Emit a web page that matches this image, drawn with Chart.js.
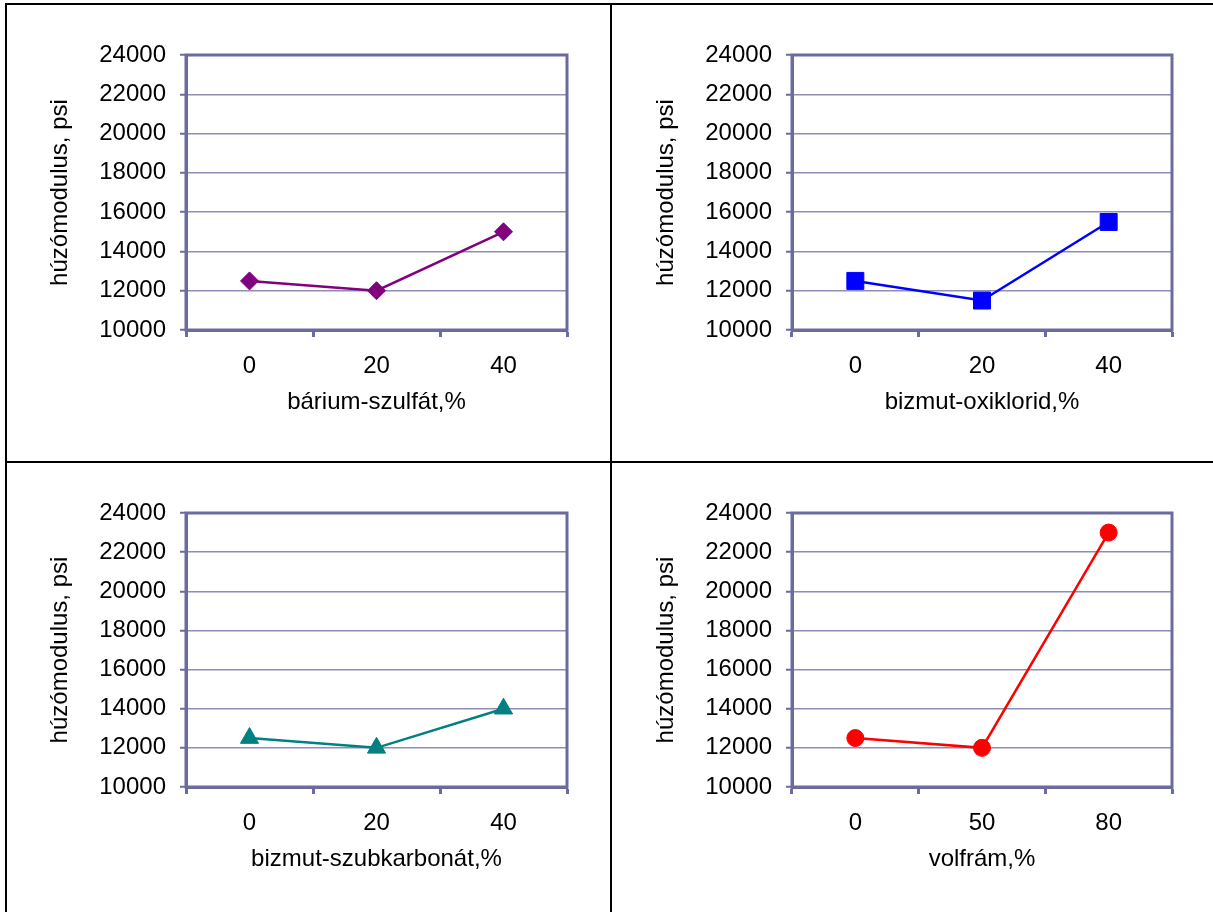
<!DOCTYPE html>
<html>
<head>
<meta charset="utf-8">
<script src="https://cdn.jsdelivr.net/npm/chart.js@4/dist/chart.umd.min.js"></script>
<style>
  body { margin: 0; background: #fff; }
  #lap { position: relative; width: 1213px; height: 912px; overflow: hidden; background: #fff; }
  canvas { position: absolute; }
  .vonal { position: absolute; background: #000; }
</style>
</head>
<body>
<div id="lap">
  <canvas id="grafBarium" width="611" height="462" style="left:0;top:0"></canvas>
  <canvas id="grafOxiklorid" width="602" height="462" style="left:611px;top:0"></canvas>
  <canvas id="grafSzubkarbonat" width="611" height="450" style="left:0;top:462px"></canvas>
  <canvas id="grafVolfram" width="602" height="450" style="left:611px;top:462px"></canvas>
  <div class="vonal" style="left:5px;top:3px;width:2px;height:909px"></div>
  <div class="vonal" style="left:5px;top:3px;width:1208px;height:2px"></div>
  <div class="vonal" style="left:610px;top:3px;width:2px;height:909px"></div>
  <div class="vonal" style="left:5px;top:461px;width:1208px;height:2px"></div>
</div>
<script>
// adatok
const cimkekSzazalek = ['0', '20', '40'];
const cimkekVolfram = ['0', '50', '80'];
const ertekBarium = [12500, 12000, 15000];
const ertekOxiklorid = [12500, 11500, 15500];
const ertekSzubkarbonat = [12500, 12000, 14000];
const ertekVolfram = [12500, 12000, 23000];
const yMin = 10000, yMax = 24000, yLepes = 2000;
const yCim = 'húzómodulus, psi';

const tengelySzin = '#6b6b9e';
const racsSzin = '#8e8eb6';
const betu = { family: '"Liberation Sans", Arial, sans-serif', size: 24 };

// keret a rajzterulet kore
const keretPlugin = {
  id: 'keret',
  afterDatasetsDraw: function(chart) {
    var a = chart.chartArea, ctx = chart.ctx;
    ctx.save();
    ctx.strokeStyle = tengelySzin;
    ctx.lineWidth = 3;
    ctx.strokeRect(a.left, a.top, a.right - a.left, a.bottom - a.top);
    ctx.restore();
  }
};

function rajzol(id, cimkek, ertekek, xCim, szin, pont, meret, padding) {
  var ctx = document.getElementById(id).getContext('2d');
  return new Chart(ctx, {
    type: 'line',
    data: {
      labels: cimkek,
      datasets: [{
        data: ertekek,
        borderColor: szin,
        backgroundColor: szin,
        borderWidth: 2.5,
        pointStyle: pont,
        pointRadius: meret,
        pointBorderWidth: 1,
        pointBorderColor: szin,
        pointBackgroundColor: szin,
        tension: 0
      }]
    },
    options: {
      responsive: false,
      animation: false,
      layout: { padding: padding },
      plugins: { legend: { display: false }, tooltip: { enabled: false } },
      scales: {
        x: {
          type: 'category',
          offset: true,
          grid: { offset: true, drawOnChartArea: false, drawTicks: true, tickLength: 7, tickColor: tengelySzin, tickWidth: 3 },
          border: { display: true, color: tengelySzin, width: 3 },
          ticks: { color: '#000', font: betu, padding: 15, maxRotation: 0 },
          title: { display: true, text: xCim, color: '#000', font: betu, padding: { top: 4, bottom: 4 } },
          afterFit: function(s) { s.height = 91; }
        },
        y: {
          min: yMin,
          max: yMax,
          ticks: {
            stepSize: yLepes, color: '#000', font: betu, padding: 14,
            callback: function(v) { return String(v); }
          },
          grid: { color: racsSzin, lineWidth: 1.5, tickLength: 6, tickColor: tengelySzin, tickWidth: 2 },
          border: { display: true, color: tengelySzin, width: 3 },
          title: { display: true, text: yCim, color: '#000', font: betu, padding: { top: 4, bottom: 4 } },
          afterFit: function(s) { s.width = 144; }
        }
      }
    },
    plugins: [keretPlugin]
  });
}

rajzol('grafBarium', cimkekSzazalek, ertekBarium, 'bárium-szulfát,%', '#800080', 'rectRot', 9,
  { left: 42, right: 44, top: 55, bottom: 41 });
rajzol('grafOxiklorid', cimkekSzazalek, ertekOxiklorid, 'bizmut-oxiklorid,%', '#0000ff', 'rect', 12,
  { left: 37, right: 41, top: 55, bottom: 41 });
rajzol('grafSzubkarbonat', cimkekSzazalek, ertekSzubkarbonat, 'bizmut-szubkarbonát,%', '#008080', 'triangle', 10.5,
  { left: 42, right: 44, top: 51, bottom: 34 });
rajzol('grafVolfram', cimkekVolfram, ertekVolfram, 'volfrám,%', '#ff0000', 'circle', 8.5,
  { left: 37, right: 41, top: 51, bottom: 34 });
</script>
</body>
</html>
